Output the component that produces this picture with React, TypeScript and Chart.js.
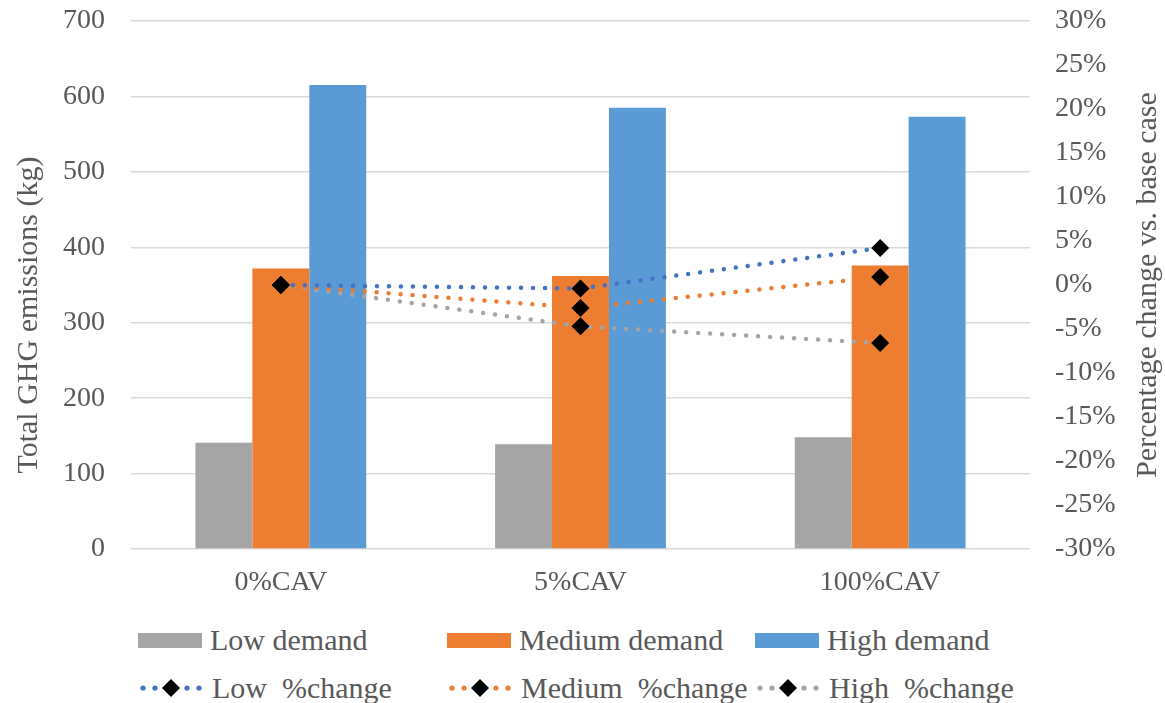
import React, { useEffect, useRef } from "react";
import { Chart, registerables } from "chart.js";

Chart.register(...registerables);

const categories = ["0%CAV", "5%CAV", "100%CAV"];
const lowDemand = [141, 139, 148];
const mediumDemand = [372, 362, 376];
const highDemand = [615, 585, 573];
const lowChange = [0, -0.4, 4.2];
const mediumChange = [0, -2.6, 0.9];
const highChange = [0, -4.7, -6.6];

const leftTitle = "Total GHG emissions (kg)";
const rightTitle = "Percentage change vs. base case";

const GRAY = "#A5A5A5";
const ORANGE = "#ED7D31";
const BLUE = "#5B9BD5";
const LINE_BLUE = "#4472C4";
const TEXT = "#595959";
const FONT = '"Liberation Serif", "Times New Roman", serif';

const legendItems = [
  { label: "Low demand", kind: "bar", color: GRAY },
  { label: "Medium demand", kind: "bar", color: ORANGE },
  { label: "High demand", kind: "bar", color: BLUE },
  { label: "Low  %change", kind: "line", color: LINE_BLUE },
  { label: "Medium  %change", kind: "line", color: ORANGE },
  { label: "High  %change", kind: "line", color: GRAY },
];

const titlePlugin = {
  id: "axisTitles",
  afterDraw(chart: any) {
    const ctx = chart.ctx;
    ctx.save();
    ctx.fillStyle = TEXT;
    ctx.font = `30px ${FONT}`;
    ctx.textAlign = "center";
    ctx.textBaseline = "middle";
    ctx.save();
    ctx.translate(29, 315);
    ctx.rotate(-Math.PI / 2);
    ctx.fillText(leftTitle, 0, 0);
    ctx.restore();
    ctx.save();
    ctx.translate(1148, 285);
    ctx.rotate(-Math.PI / 2);
    ctx.fillText(rightTitle, 0, 0);
    ctx.restore();
    ctx.restore();
  },
};

function LineSwatch({ color }: { color: string }) {
  return (
    <svg width={66} height={22} style={{ display: "block" }}>
      {[5, 17, 49, 61].map((cx) => (
        <circle key={cx} cx={cx} cy={11} r={2.6} fill={color} />
      ))}
      <polygon points="33,2 42,11 33,20 24,11" fill="#000" />
    </svg>
  );
}

export default function App() {
  const canvasRef = useRef<HTMLCanvasElement>(null);

  useEffect(() => {
    if (!canvasRef.current) return;
    const lineDs = (label: string, data: number[], color: string) => ({
      type: "line" as const,
      label,
      data,
      yAxisID: "y1",
      borderColor: color,
      borderWidth: 4.5,
      borderDash: [0.01, 12],
      borderCapStyle: "round" as const,
      pointStyle: "rectRot" as const,
      pointRadius: 9,
      pointBackgroundColor: "#000",
      pointBorderColor: "#000",
      pointBorderWidth: 0,
      fill: false,
      tension: 0,
      order: 0,
    });
    const barDs = (label: string, data: number[], color: string) => ({
      type: "bar" as const,
      label,
      data,
      yAxisID: "y",
      backgroundColor: color,
      borderWidth: 0,
      categoryPercentage: 0.57,
      barPercentage: 1,
      order: 1,
    });
    const fixPad = (axis: any) => {
      axis.paddingTop = 21;
      axis.paddingBottom = 0;
    };
    const chart = new Chart(canvasRef.current, {
      data: {
        labels: categories,
        datasets: [
          barDs("Low demand", lowDemand, GRAY),
          barDs("Medium demand", mediumDemand, ORANGE),
          barDs("High demand", highDemand, BLUE),
          lineDs("Low  %change", lowChange, LINE_BLUE),
          lineDs("Medium  %change", mediumChange, ORANGE),
          lineDs("High  %change", highChange, GRAY),
        ] as any,
      },
      options: {
        animation: false,
        responsive: false,
        layout: { padding: { top: 0, left: 0, right: 0, bottom: 0 } },
        plugins: { legend: { display: false }, tooltip: { enabled: false } },
        scales: {
          x: {
            grid: { display: false },
            border: { display: false },
            ticks: { color: TEXT, font: { family: FONT, size: 28 }, padding: 9 },
            afterFit: (axis: any) => {
              axis.height = 61;
              axis.paddingLeft = 0;
              axis.paddingRight = 0;
            },
          },
          y: {
            position: "left",
            min: 0,
            max: 700,
            ticks: { stepSize: 100, color: TEXT, font: { family: FONT, size: 28 }, padding: 26 },
            grid: { color: "#D9D9D9", lineWidth: 1.5, drawTicks: false },
            border: { display: false },
            afterFit: (axis: any) => {
              axis.width = 131;
              fixPad(axis);
            },
          },
          y1: {
            position: "right",
            min: -30,
            max: 30,
            ticks: {
              stepSize: 5,
              color: TEXT,
              font: { family: FONT, size: 28 },
              padding: 25,
              callback: (v: any) => `${v}%`,
            },
            grid: { display: false, drawTicks: false },
            border: { display: false },
            afterFit: (axis: any) => {
              axis.width = 135;
              fixPad(axis);
            },
          },
        },
      } as any,
      plugins: [titlePlugin],
    });
    return () => chart.destroy();
  }, []);

  const cols = [138, 447, 755];
  const rows = [640, 688];

  return (
    <div style={{ position: "fixed", left: 0, top: 0, width: 1165, height: 703, background: "#fff", overflow: "hidden" }}>
      <canvas ref={canvasRef} width={1165} height={610} style={{ display: "block", width: 1165, height: 610 }} />
      {legendItems.map((it, i) => {
        const x = cols[i % 3];
        const y = rows[Math.floor(i / 3)];
        return (
          <div
            key={it.label}
            style={{
              position: "absolute",
              left: x,
              top: y - 20,
              height: 40,
              display: "flex",
              alignItems: "center",
              fontFamily: FONT,
              fontSize: 30,
              color: TEXT,
              whiteSpace: "pre",
            }}
          >
            {it.kind === "bar" ? (
              <div style={{ width: 64, height: 15, background: it.color }} />
            ) : (
              <LineSwatch color={it.color} />
            )}
            <span style={{ marginLeft: 8 }}>{it.label}</span>
          </div>
        );
      })}
    </div>
  );
}
